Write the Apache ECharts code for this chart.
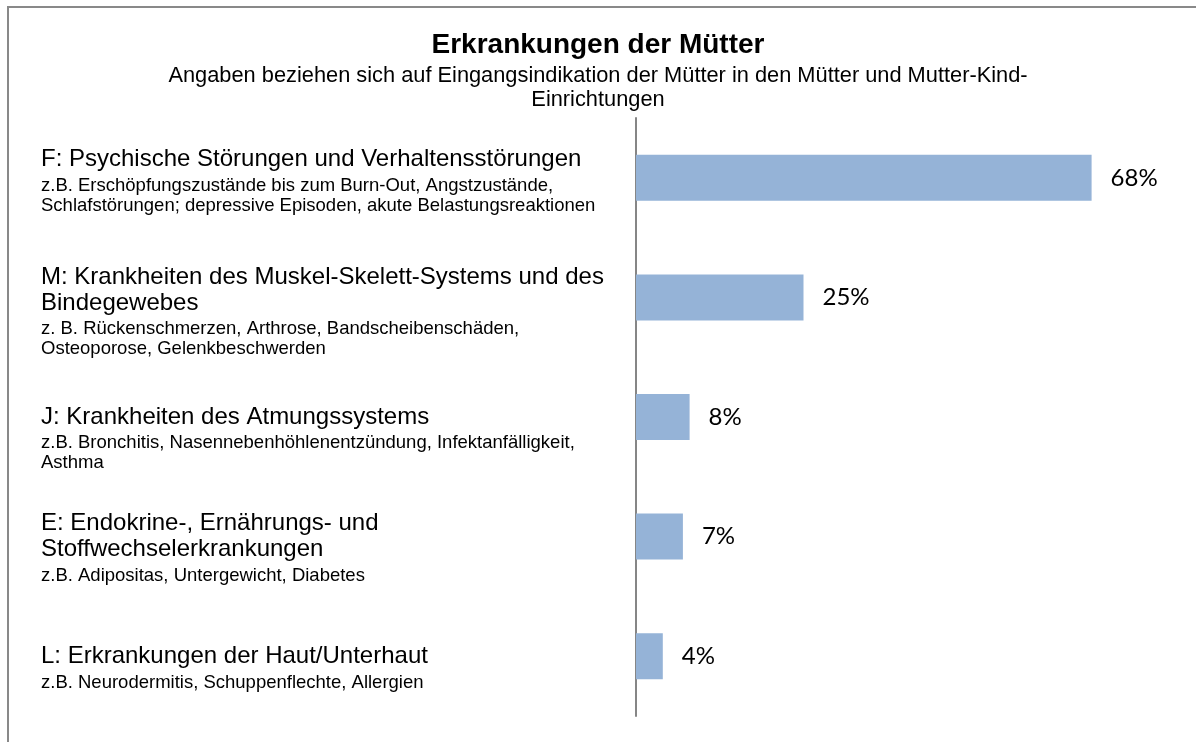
<!DOCTYPE html>
<html lang="de">
<head>
<meta charset="utf-8">
<title>Erkrankungen der Mütter</title>
<script src="https://cdn.jsdelivr.net/npm/echarts@6/dist/echarts.min.js"></script>
<style>
    html, body { margin: 0; padding: 0; background: #fff; }
    #chart { width: 1196px; height: 742px; }
</style>
</head>
<body>
<div id="chart"></div>
<script>
// Diagnosegruppen (Hauptzeile, ggf. umbrochen)
const categories = [
    'F: Psychische Störungen und Verhaltensstörungen',
    'M: Krankheiten des Muskel-Skelett-Systems und des\nBindegewebes',
    'J: Krankheiten des Atmungssystems',
    'E: Endokrine-, Ernährungs- und\nStoffwechselerkrankungen',
    'L: Erkrankungen der Haut/Unterhaut'
];

// Beispiele je Gruppe
const descriptions = [
    'z.B. Erschöpfungszustände bis zum Burn-Out, Angstzustände,\nSchlafstörungen; depressive Episoden, akute Belastungsreaktionen',
    'z. B. Rückenschmerzen, Arthrose, Bandscheibenschäden,\nOsteoporose, Gelenkbeschwerden',
    'z.B. Bronchitis, Nasennebenhöhlenentzündung, Infektanfälligkeit,\nAsthma',
    'z.B. Adipositas, Untergewicht, Diabetes',
    'z.B. Neurodermitis, Schuppenflechte, Allergien'
];

// Anteile in Prozent
const shares = [68, 25, 8, 7, 4];

// Label-Versatz nach unten (px, als Innenabstand oben), wie im Original leicht ungleich
const labelPadTop = [4, 26, 40, 26, 27];

const FONT = 'Arial, "Liberation Sans", sans-serif';

const chart = echarts.init(document.getElementById('chart'));

// Kategorie-Label als Rich-Text: große Überschrift + kleine Beispielzeilen
// (erste Beispielzeile mit mehr Abstand nach oben)
function buildLabel(value, index) {
    const big = value.split('\n').map(function(l) { return '{big|' + l + '}'; });
    const small = descriptions[index].split('\n').map(function(l, i) {
        return (i === 0 ? '{s1|' : '{s2|') + l + '}';
    });
    return big.concat(small).join('\n');
}

const yData = categories.map(function(c, i) {
    return { value: c, textStyle: { align: 'left', padding: [labelPadTop[i], 0, 0, 0] } };
});

const option = {
    animation: false,
    textStyle: { fontFamily: FONT },
    title: {
        text: 'Erkrankungen der Mütter',
        subtext: 'Angaben beziehen sich auf Eingangsindikation der Mütter in den Mütter und Mutter-Kind-\nEinrichtungen',
        left: 'center',
        top: 31,
        padding: 0,
        itemGap: 5,
        textStyle: {
            fontSize: 28,
            fontWeight: 'bold',
            color: '#000',
            fontFamily: FONT
        },
        subtextStyle: {
            fontSize: 21.8,
            lineHeight: 24,
            color: '#000',
            fontFamily: FONT
        }
    },
    graphic: [{
        // äußerer Rahmen (nur oben/links sichtbar)
        type: 'rect',
        shape: { x: 8, y: 7, width: 1400, height: 900 },
        style: { fill: 'none', stroke: '#898989', lineWidth: 2 },
        silent: true
    }],
    grid: {
        left: 636,
        right: 24,
        top: 118,
        bottom: 26,
        outerBoundsMode: 'none'
    },
    xAxis: {
        type: 'value',
        min: 0,
        max: 80,
        show: false
    },
    yAxis: {
        type: 'category',
        inverse: true,
        data: yData,
        axisLine: { lineStyle: { color: '#868686', width: 2 } },
        axisTick: { show: false },
        axisLabel: {
            align: 'left',
            margin: 595,
            formatter: buildLabel,
            rich: {
                big: {
                    fontSize: 24,
                    lineHeight: 26,
                    color: '#000',
                    fontFamily: FONT
                },
                s1: {
                    fontSize: 18.5,
                    lineHeight: 26,
                    color: '#000',
                    fontFamily: FONT
                },
                s2: {
                    fontSize: 18.5,
                    lineHeight: 14,
                    color: '#000',
                    fontFamily: FONT
                }
            }
        }
    },
    series: [{
        type: 'bar',
        data: shares,
        barWidth: 46,
        itemStyle: { color: '#95B3D7' },
        label: {
            show: true,
            position: 'right',
            distance: 19,
            formatter: '{c}%',
            fontSize: 24,
            color: '#000',
            fontFamily: 'Lato, "Open Sans", sans-serif'
        }
    }]
};

chart.setOption(option);
</script>
</body>
</html>
